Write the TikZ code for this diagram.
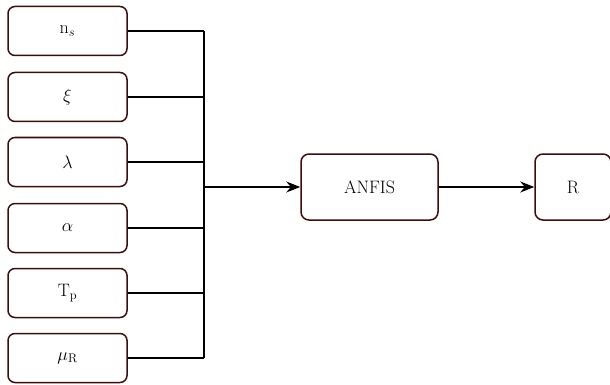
\documentclass[tikz,border=0pt]{standalone}
\usepackage{fix-cm}
\usepackage{fontspec}
\usetikzlibrary{arrows.meta}
\definecolor{boxline}{HTML}{3A0E0E}
\begin{document}
\begin{tikzpicture}[x=1pt,y=-1pt,
  inbox/.style={draw=boxline,line width=1.5pt,rounded corners=7pt,minimum width=119pt,minimum height=49pt,inner sep=0pt,font=\fontsize{18}{22}\selectfont},
  bigbox/.style={draw=boxline,line width=1.5pt,rounded corners=8pt,minimum height=66pt,inner sep=0pt,font=\fontsize{18}{22}\selectfont},
  conn/.style={line width=1.4pt},
  arr/.style={conn,-{Stealth[length=14pt,width=11pt]}}]
\useasboundingbox (0,0) rectangle (610,385);
\node[inbox] (n1) at (67.5,31) {$\mathrm{n}_s$};
\node[inbox] (n2) at (67.5,97) {$\xi$};
\node[inbox] (n3) at (67.5,162) {$\lambda$};
\node[inbox] (n4) at (67.5,228) {$\alpha$};
\node[inbox] (n5) at (67.5,293) {$\mathrm{T}_\mathrm{p}$};
\node[inbox] (n6) at (67.5,358) {$\mu_\mathrm{R}$};
\node[bigbox,minimum width=137pt] (anfis) at (369.5,187) {ANFIS};
\node[bigbox,minimum width=76pt] (r) at (573,187) {R};
\coordinate (top) at (204,31);
\coordinate (bot) at (204,358);
\coordinate (mid) at (204,187);
\draw[conn] (top) -- (bot);
\foreach \i/\y in {1/31,2/97,3/162,4/228,5/293,6/358}
  \draw[conn] (n\i.east) -- (204,\y);
\draw[arr] (mid) -- (anfis.west);
\draw[arr] (anfis.east) -- (r.west);
\end{tikzpicture}
\end{document}
